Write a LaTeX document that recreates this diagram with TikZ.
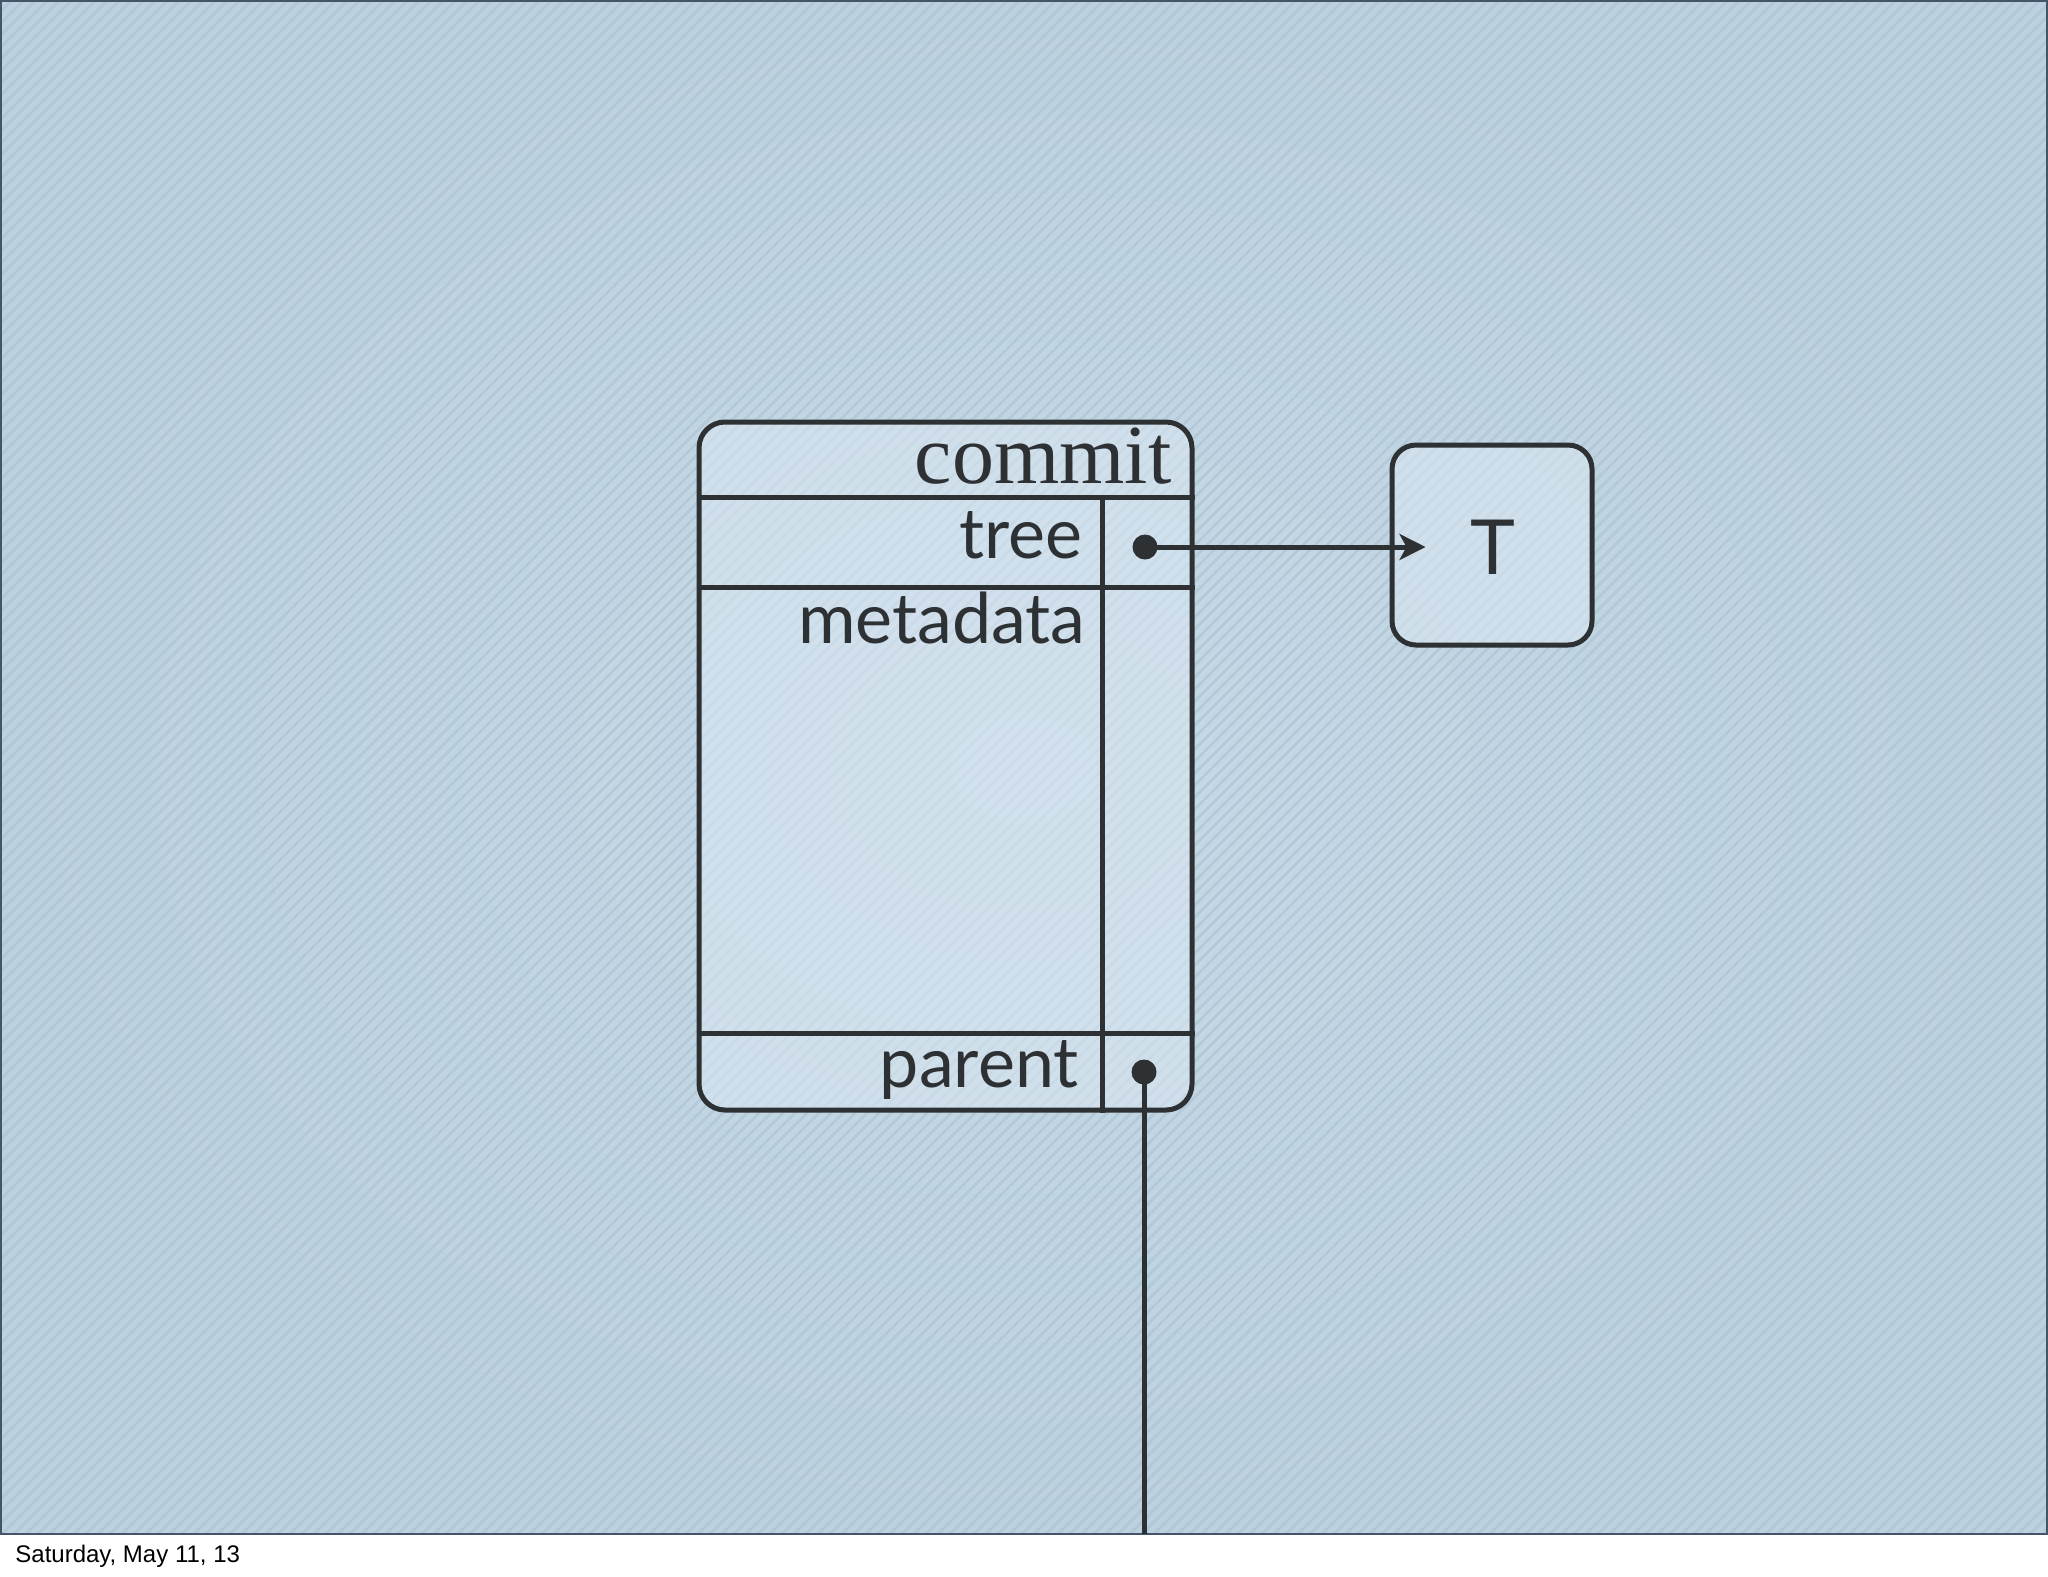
\documentclass[tikz,border=0pt]{standalone}
\usepackage{fontspec}
\setmainfont{Lato}
\newfontfamily\serifface{Liberation Serif}
\newfontfamily\dateface{Liberation Sans}
\usetikzlibrary{arrows.meta}
\definecolor{bgbase}{HTML}{BCD1DF}
\definecolor{bgcenter}{HTML}{C6D9E6}
\definecolor{bgstripe}{HTML}{A9C0D0}
\definecolor{bgborder}{HTML}{44556A}
\definecolor{boxfill}{HTML}{DCE9F3}
\definecolor{ink}{HTML}{2D3134}
\tikzset{
  x=0.5pt, y=-0.5pt,
  boxline/.style={draw=ink, line width=2.5pt},
  panel/.style={boxline, fill=boxfill, fill opacity=0.55, text opacity=1},
  label/.style={text=ink, inner sep=0pt, anchor=base east, font=\fontsize{35}{38}\selectfont},
  dot/.style={circle, fill=ink, inner sep=0pt, minimum size=12.5pt},
  wire/.style={draw=ink, line width=2.5pt},
}
\begin{document}
\begin{tikzpicture}
\useasboundingbox (0,0) rectangle (2048,1576);
% background
\fill[white] (0,0) rectangle (2048,1576);
\shade[inner color=bgcenter, outer color=bgbase] (1,1) rectangle (2047,1534);
\begin{scope}
  \clip (1,1) rectangle (2047,1534);
  \foreach \k in {0,...,300} {
    \draw[bgstripe, line width=1.3pt, opacity=0.55] ({\k*12-1540},1540) -- ({\k*12},0);
  }
\end{scope}
\draw[bgborder, line width=1.2pt] (1,1) rectangle (2047,1534);

% commit box
\node[panel, rounded corners=13pt, minimum width=246.5pt, minimum height=344pt, inner sep=0pt] (commit) at (945.5,766) {};
\draw[boxline] (commit.west |- 0,497) -- (commit.east |- 0,497);
\draw[boxline] (commit.west |- 0,587) -- (commit.east |- 0,587);
\draw[boxline] (commit.west |- 0,1033) -- (commit.east |- 0,1033);
\draw[boxline] (1102,497) -- (1102,0 |- commit.south);

\node[text=ink, inner sep=0pt, anchor=base east, font=\serifface\fontsize{42}{45}\selectfont] (commitlbl) at (1172,483) {commit};
\node[label] (treelbl) at (1083,558) {tree};
\node[label] (metalbl) at (1086,643) {metadata};
\node[label] (parentlbl) at (1079,1087) {parent};

% T box
\node[panel, rounded corners=12pt, minimum width=100pt, minimum height=100pt, inner sep=0pt] (T) at (1492,545) {};
\node[text=ink, inner sep=0pt, anchor=base, font=\fontsize{38}{40}\selectfont] (Tlbl) at (1493,574) {T};

% dots and connectors
\node[dot] (treedot) at (1145,547) {};
\node[dot] (parentdot) at (1144,1072) {};
\coordinate (bottomend) at (1144,1534);
\draw[wire, -{Stealth[length=13pt, width=13pt, inset=3.5pt]}] (treedot.center) -- ([xshift=18pt]T.west |- treedot);
\draw[wire] (parentdot.center) -- (bottomend);

% date
\node[inner sep=0pt, anchor=base west, font=\dateface\fontsize{12}{14}\selectfont] (date) at (15,1562) {Saturday, May 11, 13};
\end{tikzpicture}
\end{document}
